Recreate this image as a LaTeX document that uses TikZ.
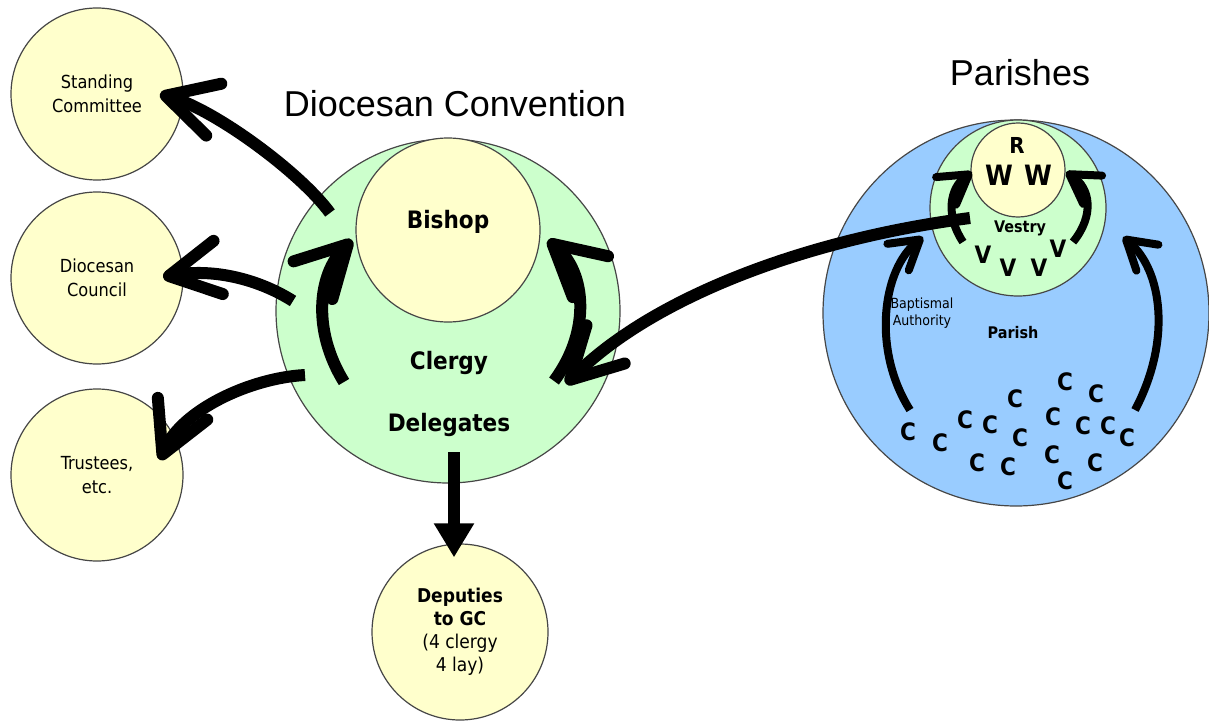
\documentclass[tikz,border=0pt]{standalone}
\usepackage{fontspec}
\usetikzlibrary{arrows.meta}
\setmainfont{DejaVu Sans Condensed}
\newfontfamily\titlefont{Liberation Sans}
\definecolor{pale_yellow}{RGB}{255,255,204}
\definecolor{mint_green}{RGB}{204,255,204}
\definecolor{parish_blue}{RGB}{153,204,255}
\definecolor{rim_gray}{RGB}{70,70,70}

\tikzset{
	disc/.style={circle,draw=rim_gray,line width=0.6pt,inner sep=0pt,align=center},
	office/.style={disc,fill=pale_yellow,minimum size=86pt,font=\fontsize{9}{12}\selectfont},
	heading/.style={font=\titlefont\fontsize{18}{20}\selectfont},
	boldtxt/.style={font=\bfseries\fontsize{12}{12}\selectfont},
	member/.style={font=\bfseries\fontsize{12}{12}\selectfont,inner sep=0pt},
	bigflow/.style={line width=6pt,-{Straight Barb[round,length=25pt,width=27pt]}},
	smallflow/.style={line width=4pt,-{Straight Barb[round,length=14pt,width=17pt]}},
	dropflow/.style={line width=6pt,-{Triangle[length=17pt,width=19pt]}},
}

\begin{document}
\begin{tikzpicture}[x=0.5pt,y=-0.5pt]
	\useasboundingbox (0,0) rectangle (1209,722);

	% titles
	\node[heading] (dctitle) at (455,104) {Diocesan Convention};
	\node[heading] (partitle) at (1020,73) {Parishes};

	% circles
	\node[office] (standing) at (97,94) {Standing\\Committee};
	\node[office] (council) at (97,278) {Diocesan\\Council};
	\node[office] (trustees) at (97,475) {Trustees,\\etc.};
	\node[disc,fill=mint_green,minimum size=172pt] (convention) at (448,311) {};
	\node[disc,fill=pale_yellow,minimum size=92pt] (bishop) at (448,230) {};
	\node[disc,fill=pale_yellow,minimum size=88pt,font=\fontsize{9.5}{11.5}\selectfont] (deputies) at (460,632) {\textbf{Deputies}\\\textbf{to GC}\\(4 clergy\\4 lay)};
	\node[disc,fill=parish_blue,minimum size=193pt] (parish) at (1016,313) {};
	\node[disc,fill=mint_green,minimum size=88pt] (vestry) at (1018,208) {};
	\node[disc,fill=pale_yellow,minimum size=47pt] (wardens) at (1018,170) {};

	% free ends
	\coordinate (sc from) at (330,213);
	\coordinate (sc tip) at (160,94);
	\coordinate (dc from) at (293,301);
	\coordinate (dc tip) at (163,277);
	\coordinate (tr from) at (305,375);
	\coordinate (tr tip) at (160,460);
	\coordinate (cl from) at (344,382);
	\coordinate (cl tip) at (352,240);
	\coordinate (dl from) at (554,381);
	\coordinate (dl tip) at (548,240);
	\coordinate (vs from) at (970,218);
	\coordinate (vs tip) at (566,384);
	\coordinate (vl from) at (963,242);
	\coordinate (vl tip) at (972,172);
	\coordinate (vr from) at (1073,242);
	\coordinate (vr tip) at (1066,172);
	\coordinate (pl from) at (910,410);
	\coordinate (pl tip) at (923,237);
	\coordinate (pr from) at (1135,410);
	\coordinate (pr tip) at (1123,237);
	\coordinate (drop) at (454,452);

	% arrows
	\draw[bigflow] (sc from) .. controls (300,172) and (215,110) .. (sc tip);
	\draw[bigflow] (dc from) .. controls (260,280) and (215,268) .. (dc tip);
	\draw[bigflow] (tr from) .. controls (250,378) and (182,410) .. (tr tip);
	\draw[bigflow] (cl from) .. controls (312,330) and (318,275) .. (cl tip);
	\draw[bigflow] (dl from) .. controls (592,330) and (585,272) .. (dl tip);
	\draw[bigflow] (vs from) .. controls (800,240) and (650,300) .. (vs tip);
	\draw[smallflow] (vl from) .. controls (945,215) and (950,188) .. (vl tip);
	\draw[smallflow] (vr from) .. controls (1095,215) and (1090,188) .. (vr tip);
	\draw[smallflow] (pl from) .. controls (872,350) and (882,270) .. (pl tip);
	\draw[smallflow] (pr from) .. controls (1172,340) and (1162,270) .. (pr tip);

	% texts
	\node[boldtxt] (bishoptxt) at (448,222) {Bishop};
	\node[boldtxt] (clergy) at (449,363) {Clergy};
	\node[boldtxt] (delegates) at (449,425) {Delegates};
	\draw[dropflow,shorten >=-7pt] (drop) -- (drop |- deputies.north);

	\node[font=\bfseries\fontsize{11}{11}\selectfont] (rector) at (1017,145) {R};
	\node[font=\bfseries\fontsize{14}{14}\selectfont] (warden1) at (999,175) {W};
	\node[font=\bfseries\fontsize{14}{14}\selectfont] (warden2) at (1038,175) {W};
	\node[font=\bfseries\fontsize{8}{8}\selectfont] (vestrytxt) at (1020,228) {Vestry};
	\node[font=\bfseries\fontsize{8}{8}\selectfont] (parishtxt) at (1013,333) {Parish};
	\node[font=\fontsize{7}{8.5}\selectfont,align=center] (baptism) at (922,313) {Baptismal\\Authority};

	\foreach \x/\y [count=\i] in {983/255,1008/268,1039/268,1058/249}
		\node[member] (v\i) at (\x,\y) {V};
	\foreach \x/\y [count=\i] in {908/432,940/443,965/420,990/425,1015/399,1020/438,977/463,1008/467,1065/382,1096/394,1053/417,1083/426,1108/426,1127/438,1052/455,1095/463,1065/481}
		\node[member] (c\i) at (\x,\y) {C};
\end{tikzpicture}
\end{document}
